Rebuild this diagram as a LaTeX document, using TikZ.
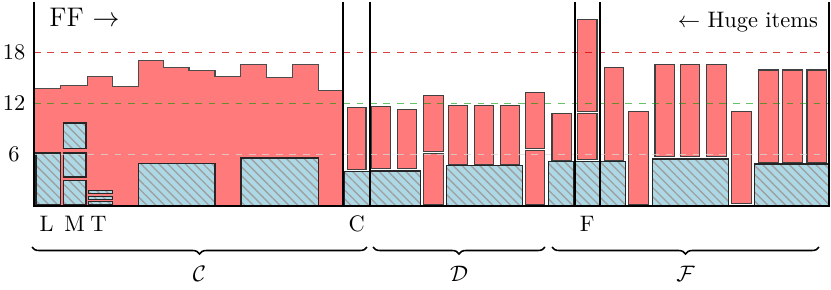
\documentclass[tikz,border=0pt]{standalone}
\usepackage{amsmath}
\usepackage{amssymb}
\usepackage{tikz}
\usetikzlibrary{patterns.meta,decorations.pathreplacing,positioning}
\definecolor{itemblue}{RGB}{173,216,230}
\definecolor{itemred}{RGB}{255,122,122}

\begin{document}
\begin{tikzpicture}[
    x=0.4464pt, y=3.817pt,
    lbl/.style={inner sep=0pt},
    wall/.style={line width=1pt, black},
    smallitem/.style={draw=black!75, fill=itemred, line width=0.5pt},
    largeitem/.style={preaction={fill=itemblue}, pattern={Lines[angle=-45, distance=2.8pt, line width=0.6pt]}, pattern color=gray!75, draw=black!85, line width=0.6pt},
    level/.style={dashed, line width=0.5pt, opacity=0.75},
    curly/.style={decorate, decoration={brace, mirror, amplitude=3.1pt}, line width=0.7pt}
]
\useasboundingbox (0,-9.71) rectangle (831,24.09);

\fill[itemred] (34,0) -- plot[const plot] coordinates {(34,13.7) (60.7,14.1) (87.3,15.1) (112.3,14.0) (138.3,17.0) (163.3,16.2) (189,15.8) (215,15.1) (240.7,16.5) (266.7,15.0) (292.3,16.5) (318.3,13.5) (343.3,13.5)} -- (343.3,0) -- cycle;
\draw[black!70, line width=0.5pt] plot[const plot] coordinates {(34,13.7) (60.7,14.1) (87.3,15.1) (112.3,14.0) (138.3,17.0) (163.3,16.2) (189,15.8) (215,15.1) (240.7,16.5) (266.7,15.0) (292.3,16.5) (318.3,13.5) (343.3,13.5)};

\draw[largeitem] (36,0.2) rectangle (60.7,6.2);
\draw[largeitem] (63.3,0.2) rectangle (86,3.0);
\draw[largeitem] (63.3,3.4) rectangle (86,6.2);
\draw[largeitem] (63.3,6.7) rectangle (86,9.7);
\foreach \y in {0.22,0.82,1.44}
    \draw[largeitem, line width=0.4pt] (88,\y) rectangle (112.3,\y+0.35);
\draw[largeitem] (138.3,0) rectangle (215,5.0);
\draw[largeitem] (241,0) rectangle (318.3,5.6);

\draw[largeitem] (344,0) rectangle (369.3,4.05);
\draw[smallitem] (347.3,4.3) rectangle (366,11.5);

\draw[largeitem] (370,0) rectangle (420.7,4.1);
\draw[smallitem] (371.3,4.4) rectangle (390.3,11.6);
\draw[smallitem] (397.3,4.4) rectangle (416.7,11.3);
\draw[smallitem] (423.3,0.2) rectangle (443.3,6.1);
\draw[smallitem] (423.3,6.35) rectangle (443.3,12.95);
\draw[largeitem] (446.3,0) rectangle (522.7,4.7);
\foreach \x/\h in {448.3/11.7, 474.3/11.7, 500.3/11.8}
    \draw[smallitem] (\x,4.8) rectangle (\x+19.4,\h);
\draw[smallitem] (525.3,0.2) rectangle (544.7,6.5);
\draw[smallitem] (525.3,6.75) rectangle (544.7,13.3);
\draw[largeitem] (548.7,0) rectangle (573.3,5.2);
\draw[smallitem] (552,5.35) rectangle (571.7,10.8);

\draw[largeitem] (574.7,0) rectangle (600,5.2);
\draw[smallitem] (577.3,5.4) rectangle (597,10.8);
\draw[smallitem] (577.3,11.1) rectangle (597,21.8);

\draw[largeitem] (600.7,0) rectangle (625.3,5.2);
\draw[smallitem] (604.3,5.35) rectangle (623.7,16.2);
\draw[smallitem] (628.3,0.2) rectangle (648.3,11.0);
\draw[largeitem] (652.3,0) rectangle (728.3,5.5);
\foreach \x in {655,680.3,706.7}
    \draw[smallitem] (\x,5.75) rectangle (\x+19.5,16.5);
\draw[smallitem] (731.3,0.3) rectangle (751.3,11.1);
\draw[largeitem] (754.3,0) rectangle (828.7,4.9);
\foreach \x in {758.7,782.7,807}
    \draw[smallitem] (\x,5.05) rectangle (\x+19.6,15.9);

\draw[level, white!85!black] (34,6) -- (829.3,6);
\draw[level, green!60!black, opacity=0.6] (34,12) -- (829.3,12);
\draw[level, red!80!black] (34,18) -- (829.3,18);

\draw[wall] (34,23.8) -- (34,0) -- (829.3,0) -- (829.3,23.8);
\foreach \x in {343.3,369.7,574.7,600}
    \draw[wall] (\x,0) -- (\x,23.8);

\foreach \v in {6,12,18}
    \node (tick\v) [lbl] at (14,\v) {\v};
\node (ff) [lbl, anchor=base west, font=\large] at (49,20.95) {FF $\rightarrow$};
\node (huge) [lbl, anchor=base east] at (818.3,20.9) {$\leftarrow$ Huge items};

\node (nameL) [lbl, anchor=base] at (46.5,-3) {L};
\node (nameM) [lbl, anchor=base] at (74.7,-3) {M};
\node (nameT) [lbl, anchor=base] at (98.5,-3) {T};
\node (nameC) [lbl, anchor=base] at (356.7,-3) {C};
\node (nameF) [lbl, anchor=base] at (587.3,-3) {F};

\draw[curly] (32,-4.8) -- (367,-4.8);
\draw[curly] (373,-4.8) -- (545,-4.8);
\draw[curly] (552,-4.8) -- (819,-4.8);
\node (groupC) [lbl, anchor=base] at (199.5,-8.8) {$\mathcal{C}$};
\node (groupD) [lbl, anchor=base] at (459,-8.8) {$\mathcal{D}$};
\node (groupF) [lbl, anchor=base] at (685.5,-8.8) {$\mathcal{F}$};
\end{tikzpicture}
\end{document}
